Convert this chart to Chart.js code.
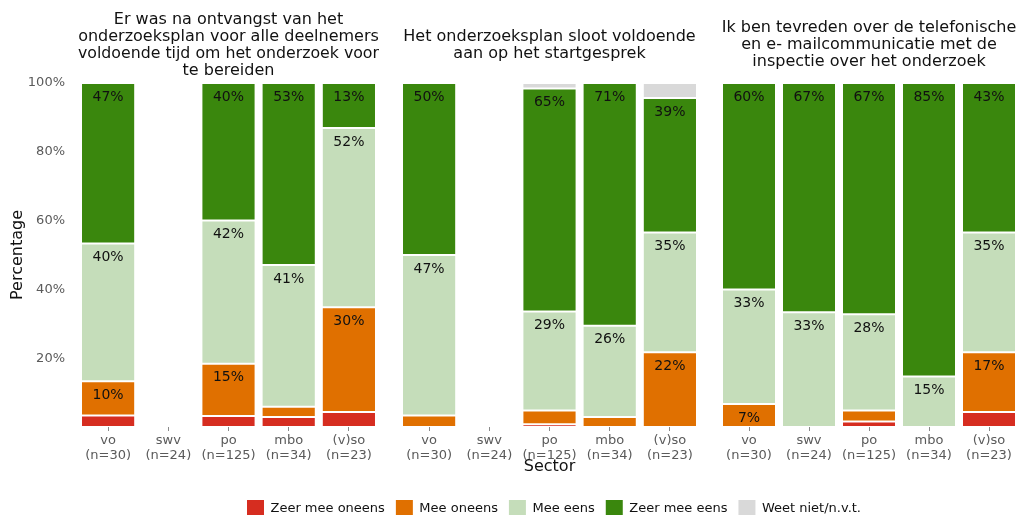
<!DOCTYPE html>
<html>
<head>
<meta charset="utf-8">
<script src="https://cdn.jsdelivr.net/npm/chart.js@4"></script>
<style>
  html, body { margin: 0; padding: 0; background: #fff; width: 1017px; height: 515px; overflow: hidden; }
  #wrap { position: relative; width: 1017px; height: 515px; overflow: hidden; }
  canvas { position: absolute; }
</style>
</head>
<body>
<div id="wrap">
  <canvas id="p1" width="379" height="480" style="left:0;top:0"></canvas>
  <canvas id="p2" width="301" height="480" style="left:399px;top:0"></canvas>
  <canvas id="p3" width="300" height="480" style="left:719px;top:0"></canvas>
  <canvas id="legend" width="952" height="80" style="left:78px;top:489px"></canvas>
</div>
<script>
// categories / labels
const sectors = ['vo', 'swv', 'po', 'mbo', '(v)so'];
const sampleSizes = ['(n=30)', '(n=24)', '(n=125)', '(n=34)', '(n=23)'];
const answers = ['Zeer mee oneens', 'Mee oneens', 'Mee eens', 'Zeer mee eens', 'Weet niet/n.v.t.'];
const yTicks = [0, 20, 40, 60, 80, 100];

// vraag 1: voldoende tijd om het onderzoek voor te bereiden
const q1ZeerOneens = [3.33, null, 3.2, 2.94, 4.35];
const q1MeeOneens  = [10.0, null, 15.2, 2.94, 30.43];
const q1MeeEens    = [40.0, null, 41.6, 41.18, 52.17];
const q1ZeerEens   = [46.67, null, 40.0, 52.94, 13.04];
const q1WeetNiet   = [0, null, 0, 0, 0];

// vraag 2: onderzoeksplan sloot aan op startgesprek
const q2ZeerOneens = [0, null, 0.8, 0, 0];
const q2MeeOneens  = [3.33, null, 4.0, 2.94, 21.74];
const q2MeeEens    = [46.67, null, 28.8, 26.47, 34.78];
const q2ZeerEens   = [50.0, null, 64.8, 70.59, 39.13];
const q2WeetNiet   = [0, null, 1.6, 0, 4.35];

// vraag 3: tevreden over telefonische en e-mailcommunicatie
const q3ZeerOneens = [0, 0, 1.6, 0, 4.35];
const q3MeeOneens  = [6.67, 0, 3.2, 0, 17.39];
const q3MeeEens    = [33.33, 33.33, 28.0, 14.71, 34.78];
const q3ZeerEens   = [60.0, 66.67, 67.2, 85.29, 43.48];
const q3WeetNiet   = [0, 0, 0, 0, 0];

const COLORS = ['#d62d20', '#e07000', '#c5ddba', '#3a870d', '#d9d9d9'];

Chart.defaults.font.family = '"DejaVu Sans", Verdana, sans-serif';
Chart.defaults.animation = false;

// percent label near the top of each segment
const segmentLabels = {
    id: 'segmentLabels',
    afterDatasetsDraw(chart) {
        const ctx = chart.ctx;
        ctx.save();
        ctx.font = '14px "DejaVu Sans", Verdana, sans-serif';
        ctx.fillStyle = '#111';
        ctx.textAlign = 'center';
        ctx.textBaseline = 'middle';
        chart.data.datasets.forEach((ds, di) => {
            chart.getDatasetMeta(di).data.forEach((bar, i) => {
                const v = ds.data[i];
                if (v == null || v < 6) return;
                ctx.fillText(Math.round(v) + '%', bar.x, bar.y + 14);
            });
        });
        ctx.restore();
    }
};

function buildDatasets(series) {
    return series.map((values, i) => ({
        label: answers[i],
        data: values,
        backgroundColor: COLORS[i],
        borderColor: 'rgba(255,255,255,0.3)',
        borderWidth: 1,
        borderSkipped: false,
        barPercentage: 0.9,
        categoryPercentage: 1.0
    }));
}

function createPanel(id, title, titlePadding, series, opts) {
    const ctx = document.getElementById(id).getContext('2d');
    return new Chart(ctx, {
        type: 'bar',
        data: {
            labels: sectors.map((s, i) => [s, sampleSizes[i]]),
            datasets: buildDatasets(series)
        },
        options: {
            responsive: false,
            layout: { padding: 0 },
            scales: {
                x: {
                    stacked: true,
                    border: { display: false },
                    grid: {
                        display: true,
                        drawOnChartArea: false,
                        drawTicks: true,
                        tickLength: 4,
                        tickColor: '#8a8a8a',
                        offset: false
                    },
                    ticks: {
                        color: '#5a5a5a',
                        font: { size: 13, lineHeight: 1.15 },
                        padding: 2,
                        maxRotation: 0,
                        autoSkip: false
                    },
                    title: {
                        display: !!opts.xTitle,
                        text: opts.xTitle || '',
                        color: '#111',
                        font: { size: 16, lineHeight: 1.0625 },
                        padding: { top: 0, bottom: 4.5 }
                    },
                    afterFit: s => { s.height = 53; }
                },
                y: {
                    stacked: true,
                    display: !!opts.showY,
                    min: 0,
                    max: 100,
                    border: { display: false },
                    grid: { display: false, drawTicks: false },
                    afterBuildTicks: s => { s.ticks = yTicks.map(v => ({ value: v })); },
                    ticks: {
                        color: '#5a5a5a',
                        font: { size: 13 },
                        padding: 13,
                        callback: v => v === 0 ? '' : v + '%'
                    },
                    title: {
                        display: !!opts.showY,
                        text: 'Percentage',
                        color: '#111',
                        font: { size: 16, lineHeight: 1.0625 },
                        padding: { top: 9.5, bottom: 0 }
                    },
                    afterFit: s => { s.width = opts.showY ? 78 : 0; }
                }
            },
            plugins: {
                legend: { display: false },
                tooltip: { enabled: false },
                title: {
                    display: true,
                    fullSize: false,   // centre over the plot area, not the whole canvas
                    text: title,
                    color: '#111',
                    font: { size: 16, weight: 'normal', lineHeight: 1.0625 },
                    padding: titlePadding
                }
            }
        },
        plugins: [segmentLabels]
    });
}

createPanel('p1',
    ['Er was na ontvangst van het', 'onderzoeksplan voor alle deelnemers', 'voldoende tijd om het onderzoek voor', 'te bereiden'],
    { top: 11.5, bottom: 3.5 },
    [q1ZeerOneens, q1MeeOneens, q1MeeEens, q1ZeerEens, q1WeetNiet],
    { showY: true });

createPanel('p2',
    ['Het onderzoeksplan sloot voldoende', 'aan op het startgesprek'],
    { top: 28, bottom: 21 },
    [q2ZeerOneens, q2MeeOneens, q2MeeEens, q2ZeerEens, q2WeetNiet],
    { xTitle: 'Sector' });

createPanel('p3',
    ['Ik ben tevreden over de telefonische', 'en e- mailcommunicatie met de', 'inspectie over het onderzoek'],
    { top: 19.5, bottom: 12.5 },
    [q3ZeerOneens, q3MeeOneens, q3MeeEens, q3ZeerEens, q3WeetNiet],
    {});

// shared legend
new Chart(document.getElementById('legend').getContext('2d'), {
    type: 'bar',
    data: {
        labels: [],
        datasets: answers.map((a, i) => ({ label: a, data: [], backgroundColor: COLORS[i], borderWidth: 0 }))
    },
    options: {
        responsive: false,
        layout: { padding: 0 },
        scales: { x: { display: false }, y: { display: false } },
        plugins: {
            tooltip: { enabled: false },
            legend: {
                position: 'top',
                labels: {
                    boxWidth: 17,
                    boxHeight: 17,
                    padding: 11,
                    color: '#111',
                    font: { size: 13 }
                }
            }
        }
    }
});
</script>
</body>
</html>
